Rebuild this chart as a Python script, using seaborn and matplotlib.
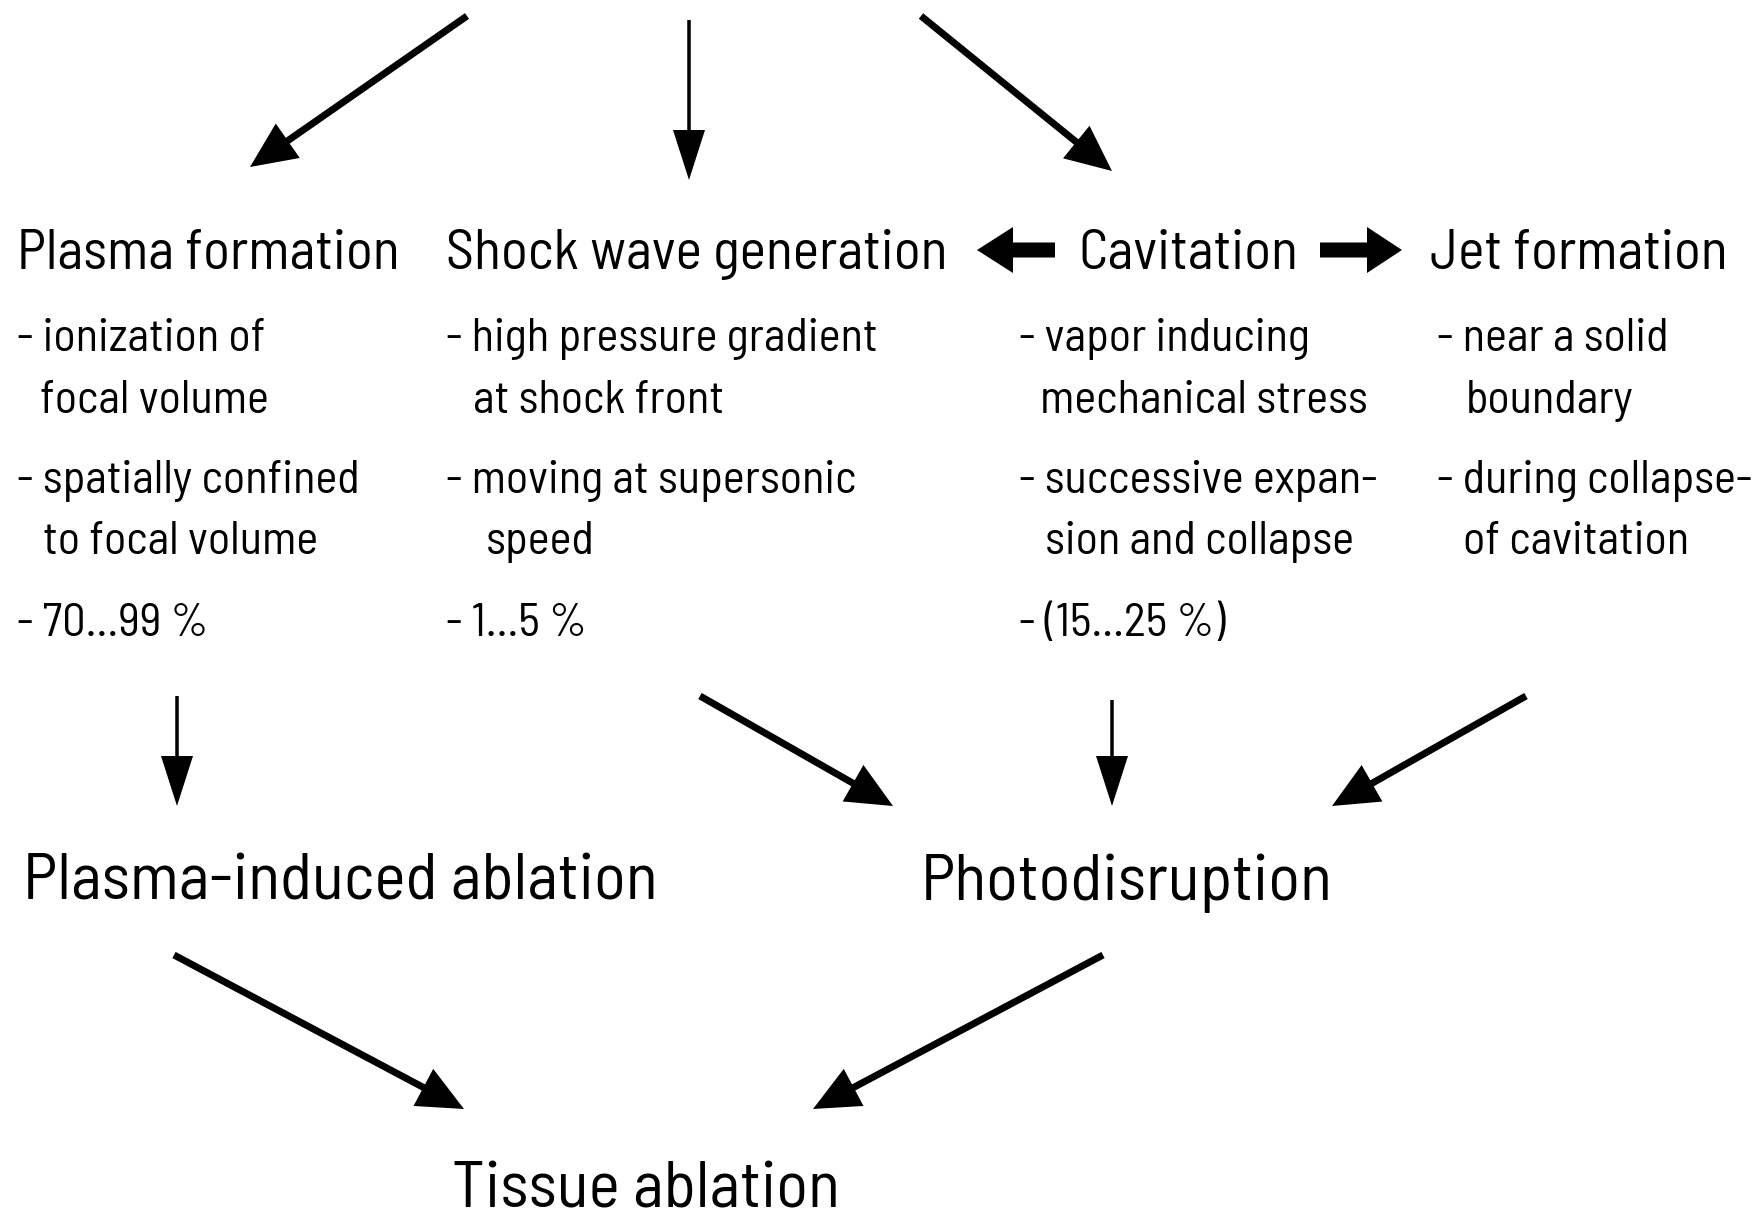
import matplotlib
matplotlib.use("Agg")
import matplotlib.pyplot as plt
import seaborn as sns

# ---------------- data (diagram content) ----------------
mechanisms = ["Plasma formation", "Shock wave generation", "Cavitation", "Jet formation"]
detail_lines = [
    ["- ionization of", "focal volume", "- spatially confined", "to focal volume"],
    ["- high pressure gradient", "at shock front", "- moving at supersonic", "speed"],
    ["- vapor inducing", "mechanical stress", "- successive expan-", "sion and collapse"],
    ["- near a solid", "boundary", "- during collapse-", "of cavitation"],
]
energy_share = ["- 70...99 %", "- 1...5 %", "- (15...25 %)", ""]
outcomes = ["Plasma-induced ablation", "Photodisruption"]
final_result = "Tissue ablation"

# ---------------- layout (pixel coordinates) ----------------
W, H = 1765, 1223
header_x = [17, 446, 1078, 1430]
header_y = 269
detail_x = [[17, 40, 17, 43], [446, 473, 446, 486], [1019, 1040, 1019, 1045], [1437, 1466, 1437, 1463]]
detail_y = [351, 413, 493, 554]
share_y = 636
outcome_x = [23, 921]
outcome_y = 900
final_x, final_y = 452, 1207

# width (px) that one sample text of each group spans in the reference
fit_header = ("Shock wave generation", 502)
fit_detail = ("- high pressure gradient", 432)
fit_big = ("Plasma-induced ablation", 635)

# arrows: (x0, y0, x1, y1, shaft width, head width, head length)
arrows = [
    (467, 16, 250, 167, 7, 42, 46),
    (689, 20, 689, 180, 3.5, 32, 50),
    (921, 16, 1112, 171, 7, 42, 46),
    (177, 696, 177, 806, 3.5, 32, 50),
    (700, 696, 893, 806, 7, 42, 46),
    (1112, 700, 1112, 806, 3.5, 32, 50),
    (1526, 696, 1332, 806, 7, 42, 46),
    (174, 955, 464, 1109, 7, 42, 46),
    (1103, 955, 813, 1109, 7, 42, 46),
    (1055, 250, 977, 250, 15, 46, 36),
    (1320, 250, 1402, 250, 15, 46, 35),
]

# ---------------- style ----------------
sns.set_theme(style="white")
plt.rcParams["font.family"] = ["Barlow Semi Condensed", "DejaVu Sans"]

fig = plt.figure(figsize=(W / 100, H / 100), dpi=100)
ax = fig.add_axes([0, 0, 1, 1])
ax.set_xlim(0, W)
ax.set_ylim(H, 0)
ax.set_axis_off()
renderer = fig.canvas.get_renderer()


def fitted_size(sample, target):
    t = ax.text(0, 0, sample, fontsize=40)
    w = t.get_window_extent(renderer).width
    t.remove()
    return 40 * target / w


hdr_fs = fitted_size(*fit_header)
det_fs = fitted_size(*fit_detail)
big_fs = fitted_size(*fit_big)

for name, x in zip(mechanisms, header_x):
    ax.text(x, header_y, name, fontsize=hdr_fs, va="baseline", ha="left", color="black")

for lines, xs in zip(detail_lines, detail_x):
    for line, x, y in zip(lines, xs, detail_y):
        ax.text(x, y, line, fontsize=det_fs, va="baseline", ha="left", color="black")

for share, xs in zip(energy_share, detail_x):
    if share:
        ax.text(xs[0], share_y, share, fontsize=det_fs, va="baseline", ha="left", color="black")

for name, x in zip(outcomes, outcome_x):
    ax.text(x, outcome_y, name, fontsize=big_fs, va="baseline", ha="left", color="black")

ax.text(final_x, final_y, final_result, fontsize=big_fs, va="baseline", ha="left", color="black")

for x0, y0, x1, y1, w, hw, hl in arrows:
    ax.arrow(x0, y0, x1 - x0, y1 - y0, width=w, head_width=hw, head_length=hl,
             length_includes_head=True, color="black", lw=0)

fig.savefig("out.png", dpi=100, facecolor="white")
